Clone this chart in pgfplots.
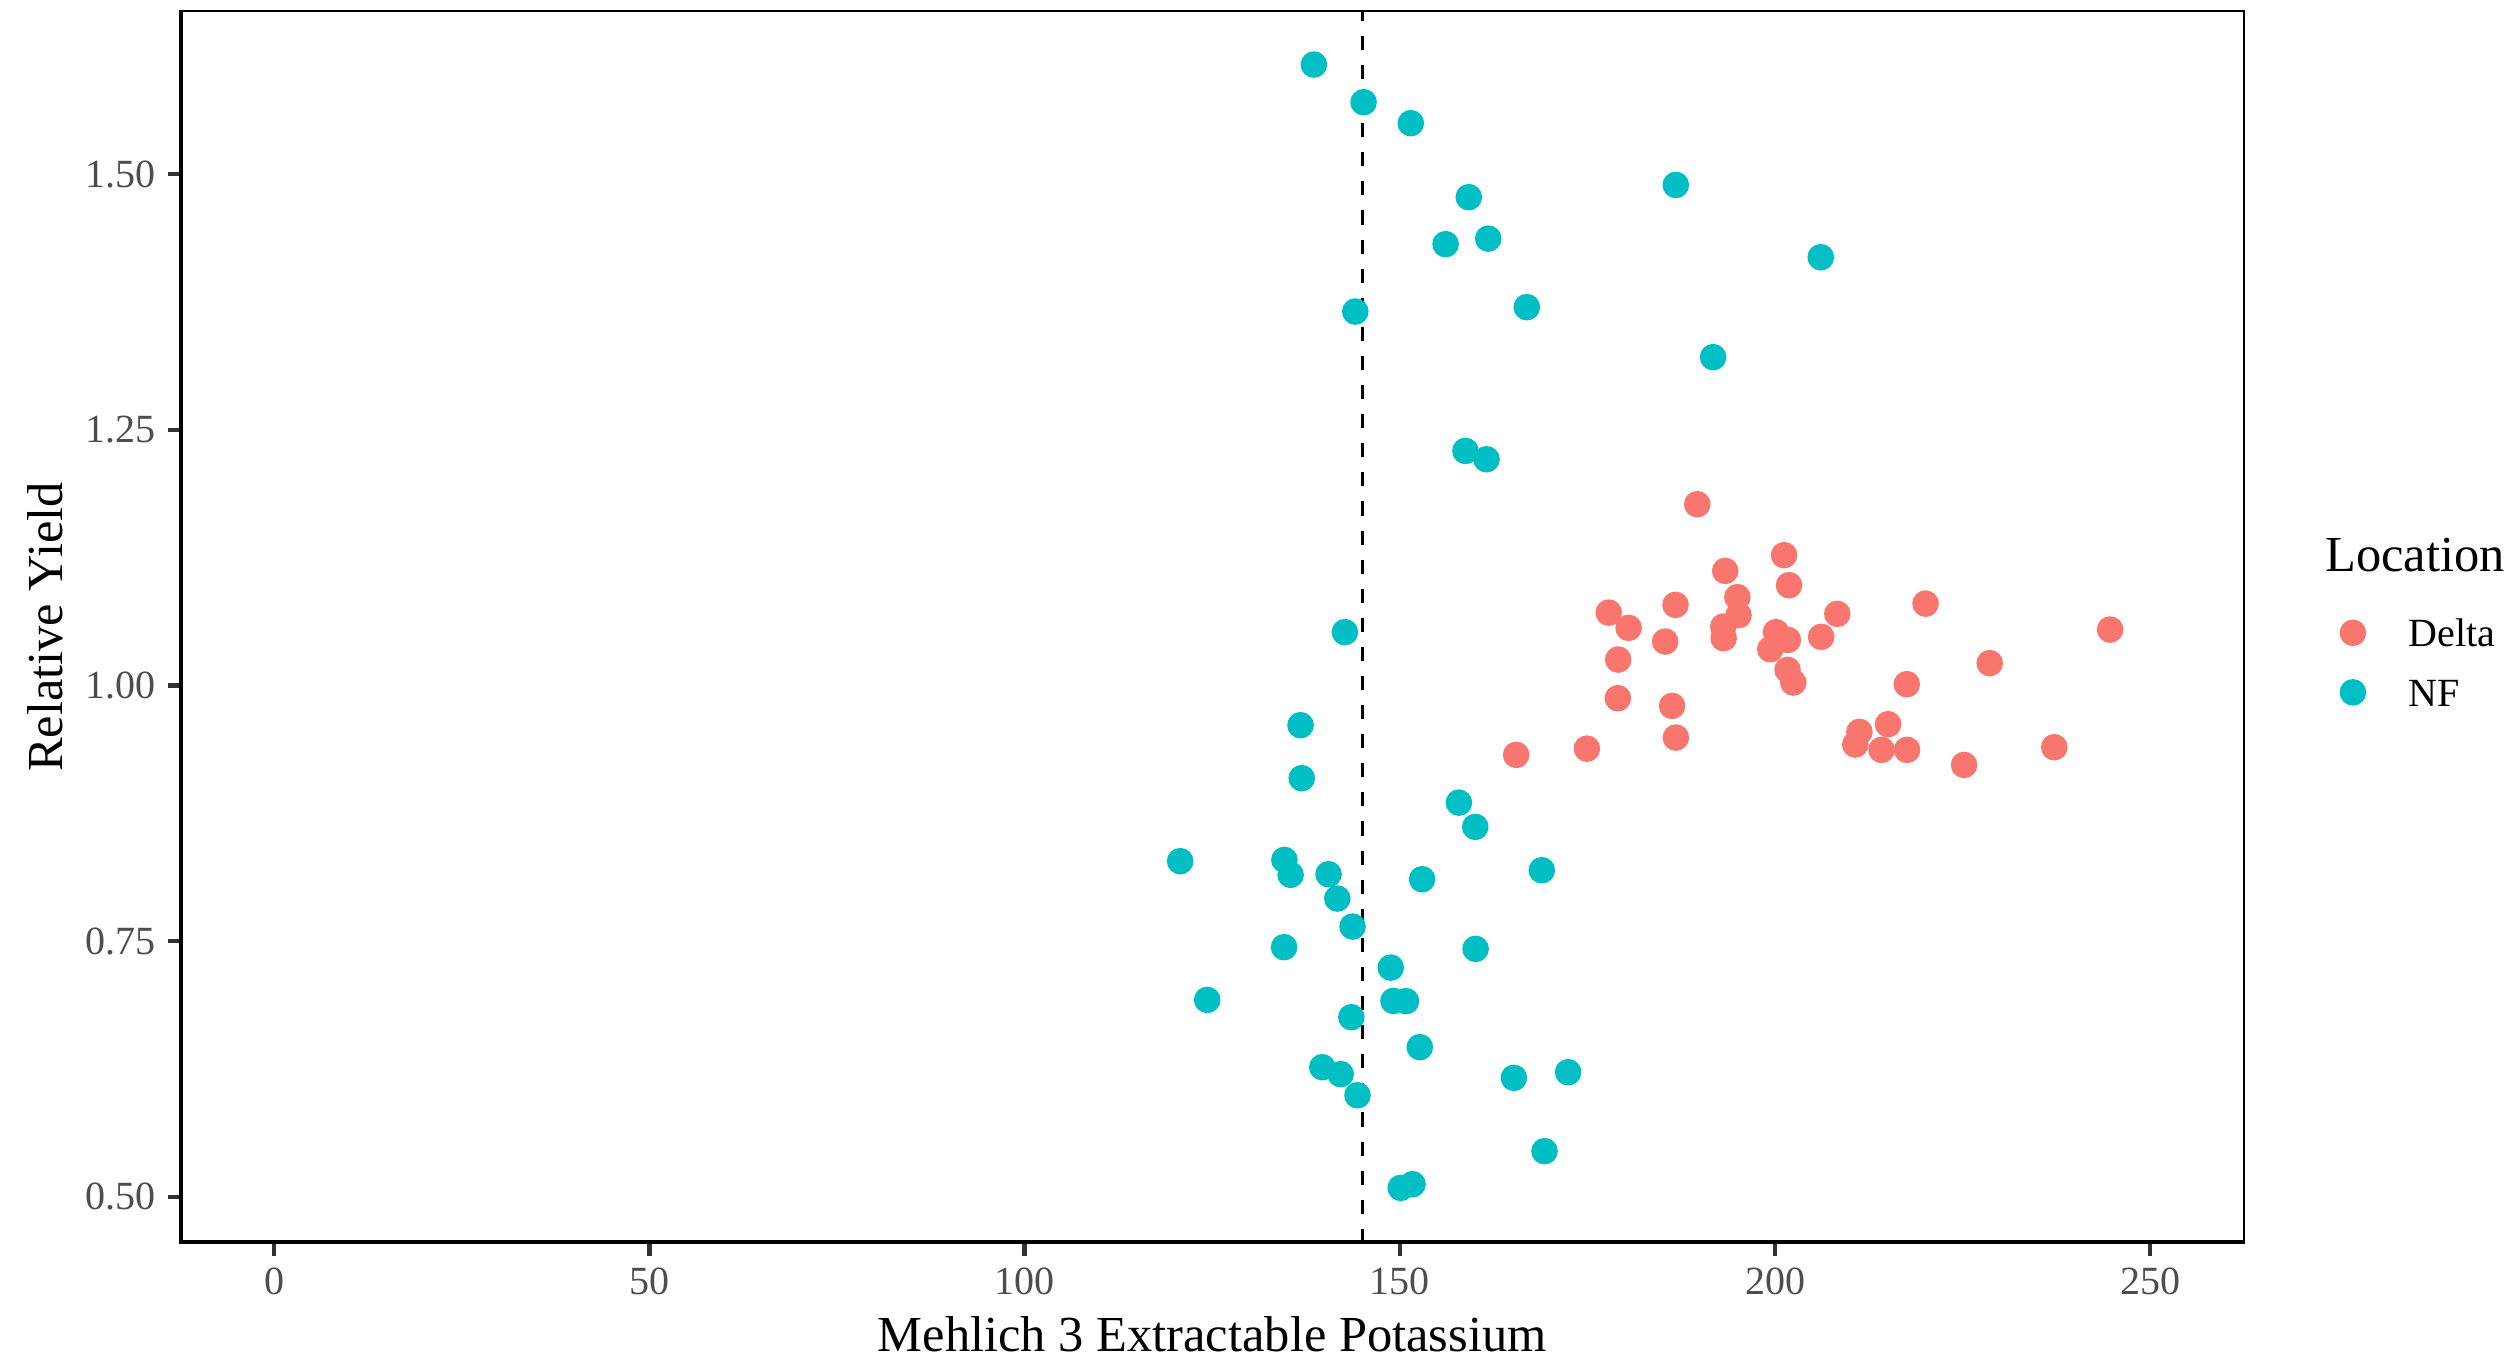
\documentclass[border=0pt]{standalone}
\usepackage{fontspec}
\setmainfont{Liberation Serif}
\usepackage{pgfplots}
\pgfplotsset{compat=1.18}

\definecolor{delta}{HTML}{F8766D}
\definecolor{nf}{HTML}{00BFC4}
\definecolor{grey30}{HTML}{4D4D4D}
\definecolor{grey20}{HTML}{333333}

\begin{document}
\begin{tikzpicture}
\begin{axis}[name=ax, at={(0,0)}, anchor=south west,
  scale only axis, width=453.9pt, height=271.0pt,
  xmin=-12.5, xmax=262.5, ymin=0.455, ymax=1.6597,
  xtick={0,50,100,150,200,250}, ytick={0.5,0.75,1,1.25,1.5},
  xtick pos=bottom, ytick pos=left,
  tick align=outside, major tick length=2.85pt,
  tick style={grey20, line width=0.95pt},
  axis line style={black, line width=0.6pt},
  /pgf/number format/assume math mode=true,
  yticklabel={\pgfmathprintnumber[fixed,fixed zerofill,precision=2]{\tick}},
  xticklabel style={font=\fontsize{8.8}{10}\selectfont, text=grey30, inner sep=0pt, yshift=-2.35pt},
  yticklabel style={font=\fontsize{8.8}{10}\selectfont, text=grey30, inner sep=0pt, xshift=-2.5pt},
  xlabel={Mehlich 3 Extractable Potassium},
  ylabel={Relative Yield},
  xlabel style={at={([yshift=-23.8pt]rel axis cs:0.5,0)}, anchor=base, inner sep=0pt, font=\fontsize{11.1}{13}\selectfont},
  ylabel style={at={([xshift=-26pt]rel axis cs:0,0.5)}, anchor=base, inner sep=0pt, font=\fontsize{11.1}{13}\selectfont},
  legend style={draw=none, fill=none, at={(axis description cs:1.0463,0.5070)}, anchor=north west,
    inner sep=0pt, row sep=7.1pt, column sep=9.57pt,
    nodes={inner sep=0pt, text height=6pt, text depth=0pt, font=\fontsize{8.8}{10}\selectfont}},
  legend cell align=left,
  legend image code/.code={\draw[#1] plot coordinates {(0pt,0pt)};},
]
% Delta
\addplot[delta, only marks, mark=*, mark size=2.75pt, mark options={line width=0.35pt, draw=delta, fill=delta}] table {
x y
189.64 1.1773
201.21 1.1275
193.36 1.1121
201.87 1.0981
194.99 1.0864
195.14 1.0688
186.74 1.0789
177.84 1.0713
180.49 1.0564
208.30 1.0701
220.06 1.0801
244.66 1.0547
193.10 1.0576
193.16 1.0463
200.13 1.0522
201.72 1.0446
199.37 1.0355
206.15 1.0476
185.37 1.0430
179.10 1.0254
201.67 1.0153
202.44 1.0029
228.62 1.0219
217.56 1.0013
179.06 0.9876
186.29 0.9801
186.79 0.9491
174.93 0.9383
165.50 0.9322
215.07 0.9622
211.25 0.9547
210.69 0.9423
214.20 0.9371
217.60 0.9371
225.20 0.9224
237.22 0.9397
};
\addlegendentry{Delta}
% NF
\addplot[nf, only marks, mark=*, mark size=2.75pt, mark options={line width=0.35pt, draw=nf, fill=nf}] table {
x y
138.55 1.6072
145.17 1.5704
151.46 1.5499
186.78 1.4895
159.19 1.4775
156.10 1.4316
161.78 1.4370
206.10 1.4188
144.06 1.3657
166.92 1.3700
191.75 1.3211
158.75 1.2294
161.55 1.2213
142.68 1.0522
136.77 0.9612
136.93 0.9094
157.87 0.8855
160.05 0.8618
120.73 0.8282
134.62 0.8295
135.45 0.8149
140.50 0.8155
152.97 0.8106
168.92 0.8194
141.67 0.7917
143.70 0.7643
134.58 0.7442
160.10 0.7425
148.79 0.7242
124.33 0.6926
149.15 0.6916
150.83 0.6914
143.54 0.6757
152.66 0.6464
139.67 0.6268
142.12 0.6200
144.36 0.5994
165.20 0.6164
172.43 0.6219
169.28 0.5447
150.12 0.5088
151.69 0.5124
};
\addlegendentry{NF}
% threshold
\addplot[black, line width=0.75pt, dash pattern=on 3.1pt off 3.3pt, forget plot] coordinates {(145,0.455) (145,1.6597)};
% thicker axis lines on left and bottom
\draw[black, line width=1.3pt] (rel axis cs:0,1) -- (rel axis cs:0,0) -- (rel axis cs:1,0);
\end{axis}
\node[anchor=base west, inner sep=0pt, font=\fontsize{11.1}{13}\selectfont] at ([xshift=471.6pt, yshift=147.7pt]ax.south west) {Location};
\pgfresetboundingbox
\path[use as bounding box] ([shift={(-39.7pt,-25.5pt)}]ax.south west) rectangle ([shift={(59.4pt,2.4pt)}]ax.north east);
\end{tikzpicture}
\end{document}
